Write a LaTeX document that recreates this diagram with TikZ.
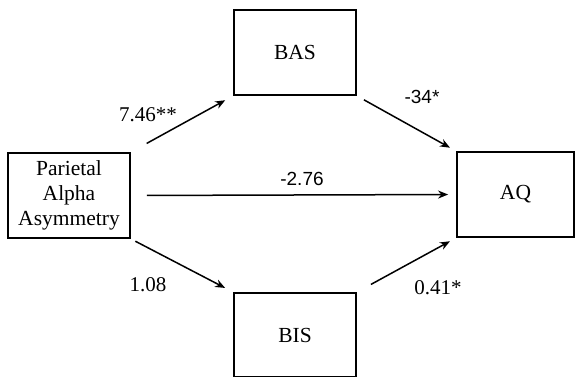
\documentclass[tikz,border=0pt]{standalone}
\usepackage{fontspec}
\setmainfont{Liberation Serif}
\setsansfont{Liberation Sans}
\usetikzlibrary{arrows.meta}

\begin{document}
\begin{tikzpicture}[x=1pt,y=-1pt,
  box/.style={draw,line width=1.8pt,inner sep=0pt,align=center,font=\fontsize{21.5}{25}\selectfont},
  arr/.style={-{Stealth[length=10pt,width=8pt]},line width=1.5pt},
  coef/.style={font=\fontsize{21}{24}\selectfont},
  coefsf/.style={font=\sffamily\fontsize{19}{22}\selectfont}]
  \useasboundingbox (0,0) rectangle (575,377);
  % boxes
  \node[box,minimum width=122pt,minimum height=85pt] (paa) at (69,195.5) {Parietal\\Alpha\\Asymmetry};
  \node[box,minimum width=122pt,minimum height=85pt] (bas) at (295,52.5) {BAS};
  \node[box,minimum width=117pt,minimum height=85pt] (aq) at (515.5,194.5) {AQ};
  \node[box,minimum width=122pt,minimum height=84pt] (bis) at (295,335) {BIS};
  % paths
  \draw[arr,shorten <=18pt,shorten >=9pt] (paa.north east) -- (bas.south west);
  \draw[arr,shorten <=8pt,shorten >=7pt] (bas.south east) -- (aq.north west);
  \draw[arr,shorten <=16pt,shorten >=8pt] (paa.east) -- (aq.west);
  \draw[arr,shorten <=5pt,shorten >=9pt] (paa.south east) -- (bis.north west);
  \draw[arr,shorten <=16pt,shorten >=7pt] (bis.north east) -- (aq.south west);
  % coefficients
  \node[coef] (c1) at (148,115) {7.46**};
  \node[coefsf] (c2) at (422,97) {-34*};
  \node[coefsf] (c3) at (302,179) {-2.76};
  \node[coef] (c4) at (148,285) {1.08};
  \node[coef] (c5) at (438,288) {0.41*};
\end{tikzpicture}
\end{document}
